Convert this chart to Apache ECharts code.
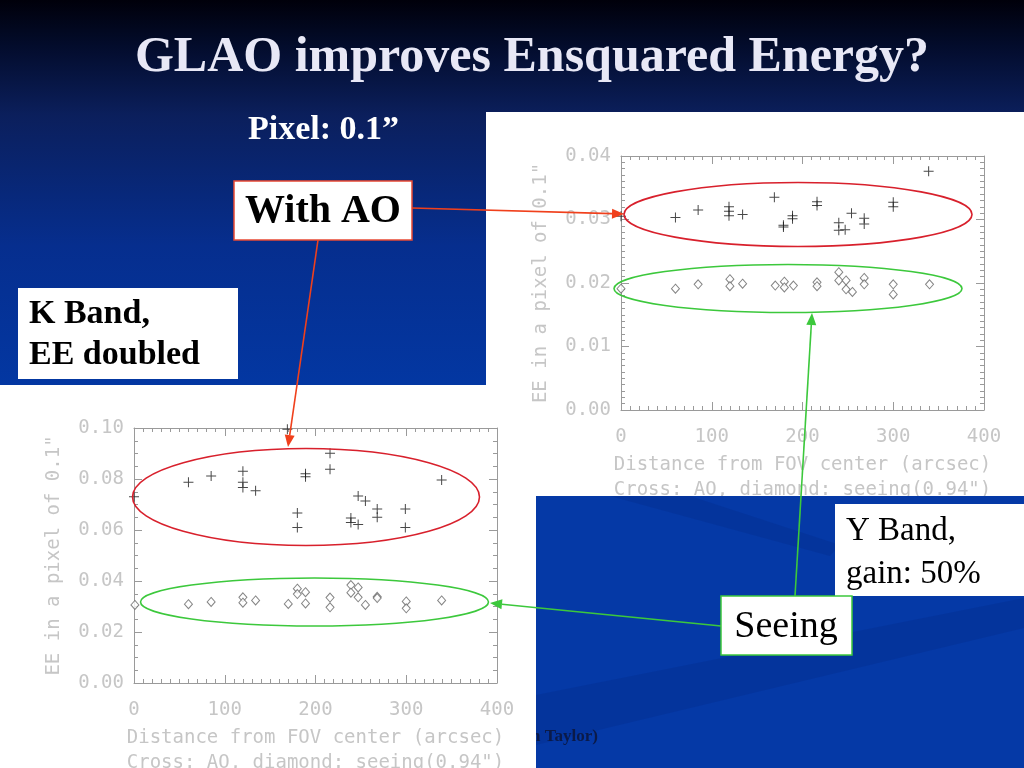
<!DOCTYPE html>
<html><head><meta charset="utf-8">
<script src="https://cdn.jsdelivr.net/npm/echarts@6/dist/echarts.min.js"></script>
<style>html,body{margin:0;padding:0;background:#000;}#c{width:1024px;height:768px;}</style>
</head><body><div id="c"></div>
<script>
// ---- data ----
const xTicks = [0, 100, 200, 300, 400];
// Y band (upper plot), crosses = AO
const yAoX = [0, 60, 85, 119, 119, 119, 134, 169, 179, 179, 189, 189, 216, 216, 240, 240, 247, 254, 268, 268, 300, 300, 339];
const yAoY = [0.0305, 0.0303, 0.0315, 0.0320, 0.0313, 0.0306, 0.0308, 0.0335, 0.0288, 0.0291, 0.0306, 0.0301, 0.0328, 0.0322, 0.0295, 0.0283, 0.0284, 0.0310, 0.0302, 0.0293, 0.0327, 0.0320, 0.0376];
// Y band, diamonds = seeing
const ySeeX = [0, 60, 85, 120, 120, 134, 170, 180, 180, 190, 216, 216, 240, 240, 248, 248, 255, 268, 268, 300, 300, 340];
const ySeeY = [0.0191, 0.0191, 0.0198, 0.0206, 0.0195, 0.0199, 0.0196, 0.0202, 0.0193, 0.0196, 0.0201, 0.0195, 0.0217, 0.0204, 0.0204, 0.0190, 0.0186, 0.0208, 0.0198, 0.0198, 0.0182, 0.0198];
// K band (lower plot), crosses = AO
const kAoX = [0, 60, 85, 120, 120, 120, 134, 169, 180, 180, 189, 189, 216, 216, 239, 239, 247, 247, 255, 268, 268, 299, 299, 339];
const kAoY = [0.0730, 0.0787, 0.0812, 0.0830, 0.0787, 0.0767, 0.0754, 0.0995, 0.0667, 0.0610, 0.0821, 0.0809, 0.0901, 0.0838, 0.0647, 0.0629, 0.0733, 0.0622, 0.0714, 0.0682, 0.0650, 0.0682, 0.0610, 0.0796];
// K band, diamonds = seeing
const kSeeX = [1, 60, 85, 120, 120, 134, 170, 180, 180, 189, 189, 216, 216, 239, 239, 247, 247, 255, 268, 268, 300, 300, 339];
const kSeeY = [0.0306, 0.0309, 0.0318, 0.0336, 0.0315, 0.0324, 0.0310, 0.0370, 0.0349, 0.0356, 0.0312, 0.0335, 0.0297, 0.0384, 0.0354, 0.0375, 0.0336, 0.0306, 0.0338, 0.0333, 0.0320, 0.0293, 0.0324];

const titleText = 'GLAO improves Ensquared Energy?';
const xName = 'Distance from FOV center (arcsec)\nCross: AO, diamond: seeing(0.94")';
const yName = 'EE in a pixel of 0.1"';

// ---- helpers ----
const zip = (a, b) => a.map((v, i) => [v, b[i]]);
const CROSS = 'path://M0,4.5H10V5.5H0Z M4.5,0H5.5V10H4.5Z';
const MONO = 'DejaVu Sans Mono';
const AX = '#9a9a9a', TXT = '#c6c6c6';

function xAx(grid, pos, show) {
  return {
    type: 'value', gridIndex: grid, position: pos, min: 0, max: 400, interval: 100,
    axisLine: { show: true, onZero: false, lineStyle: { color: AX, width: 1 } },
    axisTick: { show: true, inside: true, length: 8, lineStyle: { color: AX } },
    minorTick: { show: true, splitNumber: 10, length: 4, lineStyle: { color: AX } },
    splitLine: { show: false },
    axisLabel: { show: show, fontFamily: MONO, fontSize: 19, color: TXT, margin: 18,
      formatter: v => xTicks.includes(v) ? String(v) : '' },
    name: show ? xName : '', nameLocation: 'middle', nameGap: 43,
    nameTextStyle: { fontFamily: MONO, fontSize: 19, color: TXT, lineHeight: 25 }
  };
}
function yAx(grid, pos, show, max, interval, minor) {
  return {
    type: 'value', gridIndex: grid, position: pos, min: 0, max: max, interval: interval,
    axisLine: { show: true, onZero: false, lineStyle: { color: AX, width: 1 } },
    axisTick: { show: true, inside: true, length: 8, lineStyle: { color: AX } },
    minorTick: { show: true, splitNumber: minor, length: 4, lineStyle: { color: AX } },
    splitLine: { show: false },
    axisLabel: { show: show, fontFamily: MONO, fontSize: 19, color: TXT, margin: 10,
      formatter: v => v.toFixed(2) },
    name: show ? yName : '', nameLocation: 'middle', nameGap: 70,
    nameTextStyle: { fontFamily: MONO, fontSize: 19, color: TXT }
  };
}

function arrow(x1, y1, x2, y2, color) {
  const dx = x2 - x1, dy = y2 - y1, L = Math.hypot(dx, dy), ux = dx / L, uy = dy / L;
  const hl = 12, hw = 5;
  const bx = x2 - ux * hl, by = y2 - uy * hl;
  return [
    { type: 'line', z: 40, silent: true, shape: { x1: x1, y1: y1, x2: bx, y2: by }, style: { stroke: color, lineWidth: 1.6 } },
    { type: 'polygon', z: 40, silent: true, shape: { points: [[x2, y2], [bx - uy * hw, by + ux * hw], [bx + uy * hw, by - ux * hw]] }, style: { fill: color } }
  ];
}
function ell(cx, cy, rx, ry, color) {
  return { type: 'ellipse', z: 40, silent: true, shape: { cx, cy, rx, ry }, style: { fill: null, stroke: color, lineWidth: 1.6 } };
}
function rect(x, y, w, h, fill, stroke, z) {
  return { type: 'rect', z: z, silent: true, shape: { x, y, width: w, height: h },
    style: { fill: fill, stroke: stroke || null, lineWidth: stroke ? 1.5 : 0 } };
}
function txt(t, x, y, font, fill, align, valign, z, lh) {
  return { type: 'text', z: z || 30, silent: true, x: x, y: y,
    style: { text: t, font: font, fill: fill, align: align || 'left', verticalAlign: valign || 'middle',
      textAlign: align || 'left', textVerticalAlign: valign || 'middle', lineHeight: lh } };
}

const RED = '#f0401c', RED_E = '#d8202c', GREEN = '#3cc83c';

const graphics = [
  // panels
  rect(486, 112, 538, 384, '#ffffff', null, -10),
  rect(0, 385, 536, 383, '#ffffff', null, -8),
  rect(536, 496, 488, 272, '#0539a6', null, 10),
  { type: 'polygon', z: 11, silent: true, shape: { points: [[610, 496], [690, 496], [840, 545], [830, 556]] }, style: { fill: 'rgba(0,20,90,0.13)' } },
  { type: 'polygon', z: 11, silent: true, shape: { points: [[536, 695], [1024, 598], [1024, 628], [536, 745]] }, style: { fill: 'rgba(0,20,90,0.13)' } },
  txt('n Taylor)', 598, 737, 'bold 17px "Liberation Serif"', '#0b1a48', 'right', 'middle', 12),
  rect(522, 725, 14, 24, '#ffffff', null, 13),
  // title & captions
  txt(titleText, 532, 58, 'bold 50px "Liberation Serif"', '#e8e8f6', 'center', 'middle', 30),
  txt('Pixel: 0.1\u201d', 248, 130, 'bold 34px "Liberation Serif"', '#ffffff', 'left', 'middle', 30),
  rect(234, 181, 178, 59, '#ffffff', '#e84a34', 20),
  txt('With AO', 323, 212, 'bold 40px "Liberation Serif"', '#000000', 'center', 'middle', 30),
  rect(18, 288, 220, 91, '#ffffff', null, 20),
  txt('K Band,\nEE doubled', 29, 335, 'bold 34px "Liberation Serif"', '#000000', 'left', 'middle', 30, 41),
  rect(835, 504, 189, 92, '#ffffff', null, 20),
  txt('Y Band,\ngain: 50%', 846, 553, '33px "Liberation Serif"', '#000000', 'left', 'middle', 30, 43),
  rect(721, 596, 131, 59, '#ffffff', GREEN, 45),
  txt('Seeing', 786, 627, '38px "Liberation Serif"', '#000000', 'center', 'middle', 46),
  // ellipses
  ell(798, 214.5, 174, 32, RED_E),
  ell(788, 288.5, 174, 24, GREEN),
  ell(306, 497, 173.5, 48.5, RED_E),
  ell(314.5, 602, 174, 24, GREEN)
].concat(
  arrow(412, 208, 624, 214, RED),
  arrow(318, 240, 288, 447, RED),
  arrow(795, 596, 812, 313, GREEN),
  arrow(721, 626, 490, 603, GREEN)
);

const chart = echarts.init(document.getElementById('c'), null, { renderer: 'canvas' });
chart.setOption({
  animation: false,
  backgroundColor: {
    type: 'linear', x: 0, y: 0, x2: 0, y2: 1,
    colorStops: [
      { offset: 0, color: '#00000a' },
      { offset: 0.06, color: '#030c2c' },
      { offset: 0.15, color: '#0b1f5c' },
      { offset: 0.32, color: '#062e8e' },
      { offset: 0.5, color: '#0337a2' },
      { offset: 1, color: '#0539a8' }
    ]
  },
  grid: [
    { left: 621, top: 156, width: 363, height: 254, containLabel: false, outerBoundsMode: 'none' },
    { left: 134, top: 428, width: 363, height: 255, containLabel: false, outerBoundsMode: 'none' }
  ],
  xAxis: [xAx(0, 'bottom', true), xAx(0, 'top', false), xAx(1, 'bottom', true), xAx(1, 'top', false)],
  yAxis: [yAx(0, 'left', true, 0.04, 0.01, 10), yAx(0, 'right', false, 0.04, 0.01, 10),
          yAx(1, 'left', true, 0.10, 0.02, 4), yAx(1, 'right', false, 0.10, 0.02, 4)],
  series: [
    { type: 'scatter', xAxisIndex: 0, yAxisIndex: 0, data: zip(yAoX, yAoY), symbol: CROSS, symbolSize: 10, itemStyle: { color: '#1a1a1a' }, z: 3, silent: true },
    { type: 'scatter', xAxisIndex: 0, yAxisIndex: 0, data: zip(ySeeX, ySeeY), symbol: 'diamond', symbolSize: [8, 9], itemStyle: { color: '#ffffff', borderColor: '#666', borderWidth: 1 }, z: 3, silent: true },
    { type: 'scatter', xAxisIndex: 2, yAxisIndex: 2, data: zip(kAoX, kAoY), symbol: CROSS, symbolSize: 10, itemStyle: { color: '#1a1a1a' }, z: 3, silent: true },
    { type: 'scatter', xAxisIndex: 2, yAxisIndex: 2, data: zip(kSeeX, kSeeY), symbol: 'diamond', symbolSize: [8, 9], itemStyle: { color: '#ffffff', borderColor: '#666', borderWidth: 1 }, z: 3, silent: true }
  ],
  graphic: { elements: graphics }
});
</script></body></html>
